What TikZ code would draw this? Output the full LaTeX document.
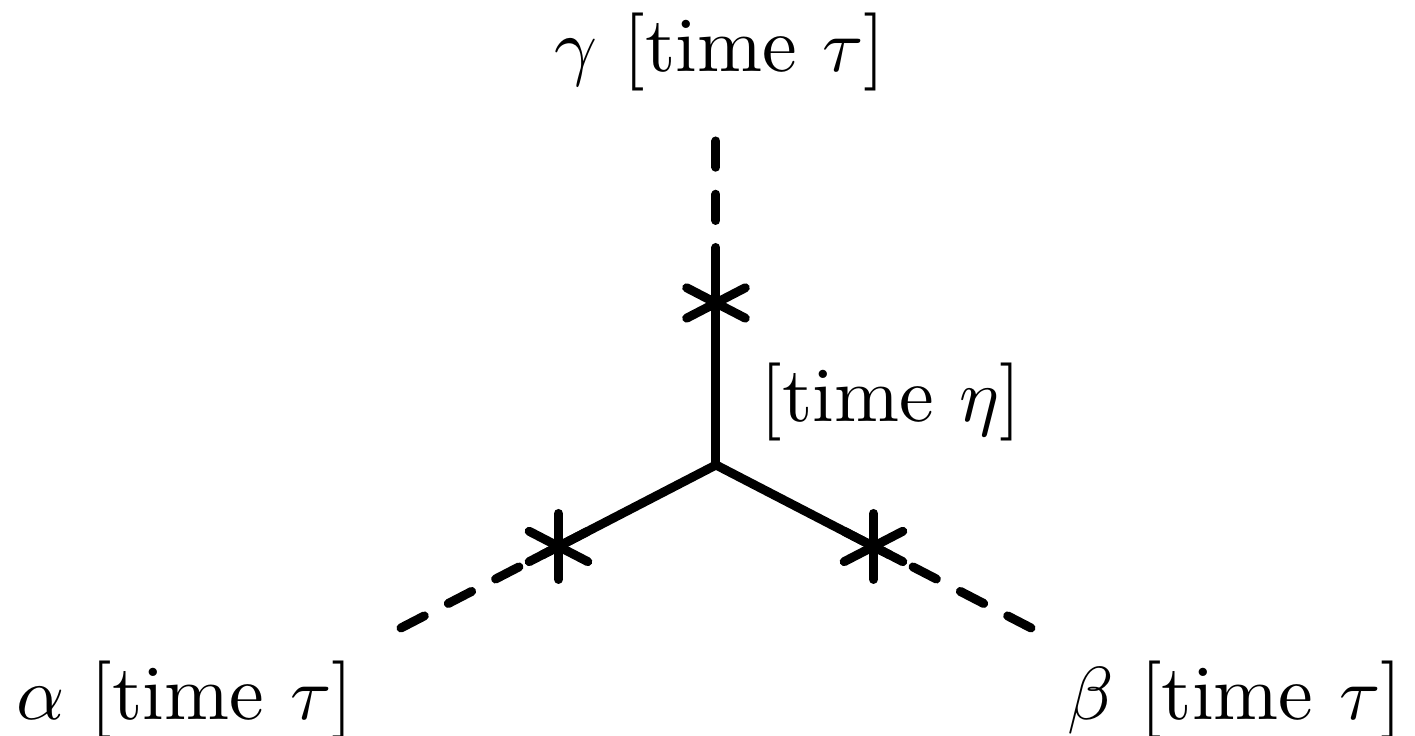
\documentclass[tikz,border=0pt]{standalone}
\usepackage{amsmath,amssymb}
\usetikzlibrary{calc}
\tikzset{
  leg/.style={line width=1.2pt,line cap=round},
  tail/.style={leg,dash pattern=on 3.5pt off 3.6pt},
  timelabel/.style={font=\fontsize{10.4}{12}\selectfont},
}
% asterisk marker on a leg
\newcommand{\legstar}[1]{%
  \foreach \a in {90,27.4,-27.4}
    \draw[leg] ($(#1)+(\a:33)$) -- ($(#1)+(\a+180:33)$);}

\begin{document}
\begin{tikzpicture}[x=0.1333pt,y=0.1333pt]
        \useasboundingbox (0,0) rectangle (1415,736);
        \coordinate (v) at (716,271);
        \coordinate (g) at (716,595);
        \coordinate (a) at (401,108);
        \coordinate (b) at (1031,108);
        \coordinate (sg) at ($(v)!0.5!(g)$);
        \coordinate (sa) at ($(v)!0.5!(a)$);
        \coordinate (sb) at ($(v)!0.5!(b)$);
        \draw[leg] (v) -- (sg);
        \draw[leg] (v) -- (sa);
        \draw[leg] (v) -- (sb);
        \draw[tail] (g) -- (sg);
        \draw[tail] (a) -- (sa);
        \draw[tail] (b) -- (sb);
        \legstar{sg}
        \legstar{sa}
        \legstar{sb}
        \node[timelabel] (lg) at (720,684) {$\gamma$ [time $\tau$]};
        \node[timelabel] (le) at (891,334) {[time $\eta$]};
        \node[timelabel] (la) at (185,36) {$\alpha$ [time $\tau$]};
        \node[timelabel] (lb) at (1235,36) {$\beta$ [time $\tau$]};
      \end{tikzpicture}
\end{document}
